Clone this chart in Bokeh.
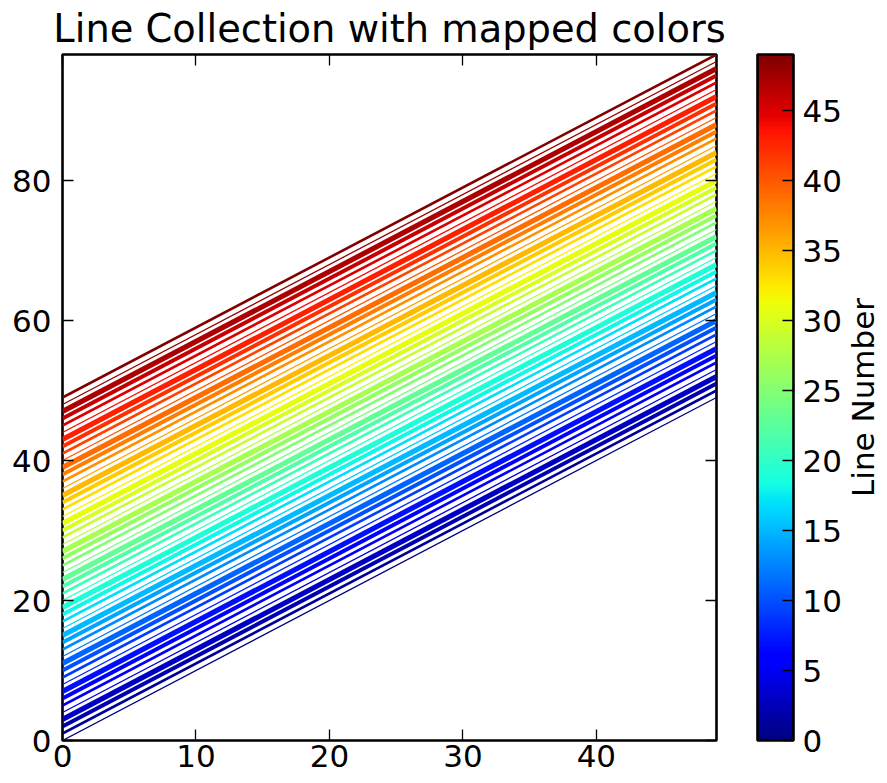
import numpy as np
from math import pi
from bokeh.plotting import figure
from bokeh.layouts import row
from bokeh.models import (ColumnDataSource, LinearAxis, FixedTicker, ColorBar,
                          LinearColorMapper, Range1d, Label)
from bokeh.transform import linear_cmap
from bokeh.embed import file_html
from bokeh.resources import INLINE

# ---------------- data ----------------
line_number = [0, 1, 2, 3, 4, 5, 6, 7, 8, 9, 10, 11, 12, 13, 14, 15, 16, 17, 18, 19,
               20, 21, 22, 23, 24, 25, 26, 27, 28, 29, 30, 31, 32, 33, 34, 35, 36, 37, 38, 39,
               40, 41, 42, 43, 44, 45, 46, 47, 48, 49]
x_first = [0] * 50
x_last = [49] * 50
y_first = [0, 1, 2, 3, 4, 5, 6, 7, 8, 9, 10, 11, 12, 13, 14, 15, 16, 17, 18, 19,
           20, 21, 22, 23, 24, 25, 26, 27, 28, 29, 30, 31, 32, 33, 34, 35, 36, 37, 38, 39,
           40, 41, 42, 43, 44, 45, 46, 47, 48, 49]
y_last = [49, 50, 51, 52, 53, 54, 55, 56, 57, 58, 59, 60, 61, 62, 63, 64, 65, 66, 67, 68,
          69, 70, 71, 72, 73, 74, 75, 76, 77, 78, 79, 80, 81, 82, 83, 84, 85, 86, 87, 88,
          89, 90, 91, 92, 93, 94, 95, 96, 97, 98]
x_ticks = [0, 10, 20, 30, 40]
y_ticks = [0, 20, 40, 60, 80]
cbar_ticks = [0, 5, 10, 15, 20, 25, 30, 35, 40, 45]
x_limits = (0, 49)
y_limits = (0, 98)
color_limits = (0, 49)
title_text = "Line Collection with mapped colors"
cbar_label = "Line Number"

# ---------------- styles ----------------
PX_PER_PT = 2.6
width_cycle_pt = [0.5, 1.0, 1.5, 2.0]
FONT = "DejaVu Sans"
TICK_FS = "31px"
TOP, BOTTOM = 52, 35

# jet colormap (matplotlib definition)
def _seg(points, t):
    xs = [q[0] for q in points]
    vs = [q[1] for q in points]
    return np.interp(t, xs, vs)

_t = np.linspace(0, 1, 256)
_r = _seg([(0, 0), (0.35, 0), (0.66, 1), (0.89, 1), (1, 0.5)], _t)
_g = _seg([(0, 0), (0.125, 0), (0.375, 1), (0.64, 1), (0.91, 0), (1, 0)], _t)
_b = _seg([(0, 0.5), (0.11, 1), (0.34, 1), (0.65, 0), (1, 0)], _t)
jet = ["#%02x%02x%02x" % (int(round(r * 255)), int(round(g * 255)), int(round(b * 255)))
       for r, g, b in zip(_r, _g, _b)]

src = ColumnDataSource(dict(
    num=line_number, x0=x_first, x1=x_last, y0=y_first, y1=y_last,
    lw=[width_cycle_pt[i % 4] * PX_PER_PT for i in range(len(line_number))],
))

p = figure(width=845, height=775,
           x_range=Range1d(*x_limits), y_range=Range1d(*y_limits),
           output_backend="svg", toolbar_location=None,
           min_border_left=62, min_border_right=129,
           min_border_top=TOP, min_border_bottom=BOTTOM,
           title=title_text)
p.title.text_font = FONT
p.title.text_font_size = "38.4px"
p.title.text_font_style = "normal"
p.title.text_color = "black"
p.title.align = "center"
p.title.standoff = 7
p.background_fill_color = "white"
p.border_fill_color = "white"
p.outline_line_color = "black"
p.outline_line_width = 2.6
p.grid.visible = False

p.segment(x0="x0", y0="y0", x1="x1", y1="y1", source=src,
          line_color=linear_cmap("num", jet, color_limits[0], color_limits[1]),
          line_width="lw")

def style_axis(ax, ticks, show_labels, standoff, tick_in=11, tick_out=0, tick_color="black"):
    ax.ticker = FixedTicker(ticks=ticks)
    ax.axis_line_color = None
    ax.major_tick_in = tick_in
    ax.major_tick_out = tick_out
    ax.major_tick_line_color = tick_color
    ax.major_tick_line_width = 1.3
    ax.minor_tick_line_color = None
    ax.major_label_text_font = FONT
    ax.major_label_text_font_size = TICK_FS
    ax.major_label_text_color = "black" if show_labels else None
    ax.major_label_standoff = standoff

style_axis(p.xaxis[0], x_ticks, True, 4)
style_axis(p.yaxis[0], y_ticks, True, 11)

top_ax = LinearAxis()
style_axis(top_ax, x_ticks, False, 0)
p.add_layout(top_ax, "above")

right_ax = LinearAxis()
style_axis(right_ax, y_ticks, False, 0)
p.add_layout(right_ax, "right")

# invisible spacer between the frame and the colour bar
spacer_ax = LinearAxis()
style_axis(spacer_ax, y_ticks, False, 0, tick_in=0, tick_out=41, tick_color=None)
p.add_layout(spacer_ax, "right")

mapper = LinearColorMapper(palette=jet, low=color_limits[0], high=color_limits[1])
cb = ColorBar(color_mapper=mapper, ticker=FixedTicker(ticks=cbar_ticks),
              width=36, padding=0, margin=0,
              major_label_text_font=FONT, major_label_text_font_size=TICK_FS,
              major_label_text_color="black",
              label_standoff=9, major_tick_in=11, major_tick_out=0,
              major_tick_line_color="black", major_tick_line_width=1.3,
              minor_tick_line_color=None,
              bar_line_color="black", bar_line_width=2.6,
              border_line_color=None, background_fill_color=None)
p.add_layout(cb, "right")

# narrow companion panel holding the colour-bar label
p2 = figure(width=34, height=775, x_range=Range1d(0, 1), y_range=p.y_range,
            output_backend="svg", toolbar_location=None,
            x_axis_location=None, y_axis_location=None,
            min_border_left=0, min_border_right=0,
            min_border_top=TOP, min_border_bottom=BOTTOM)
p2.outline_line_color = None
p2.grid.visible = False
p2.background_fill_color = "white"
p2.border_fill_color = "white"
p2.add_layout(Label(x=0.5, y=(y_limits[0] + y_limits[1]) / 2, text=cbar_label,
                    angle=pi / 2, text_align="center", text_baseline="middle",
                    text_font=FONT, text_font_size=TICK_FS, text_color="black"))

layout = row(p, p2, spacing=0)
open("out.html", "w").write(file_html(layout, INLINE))
